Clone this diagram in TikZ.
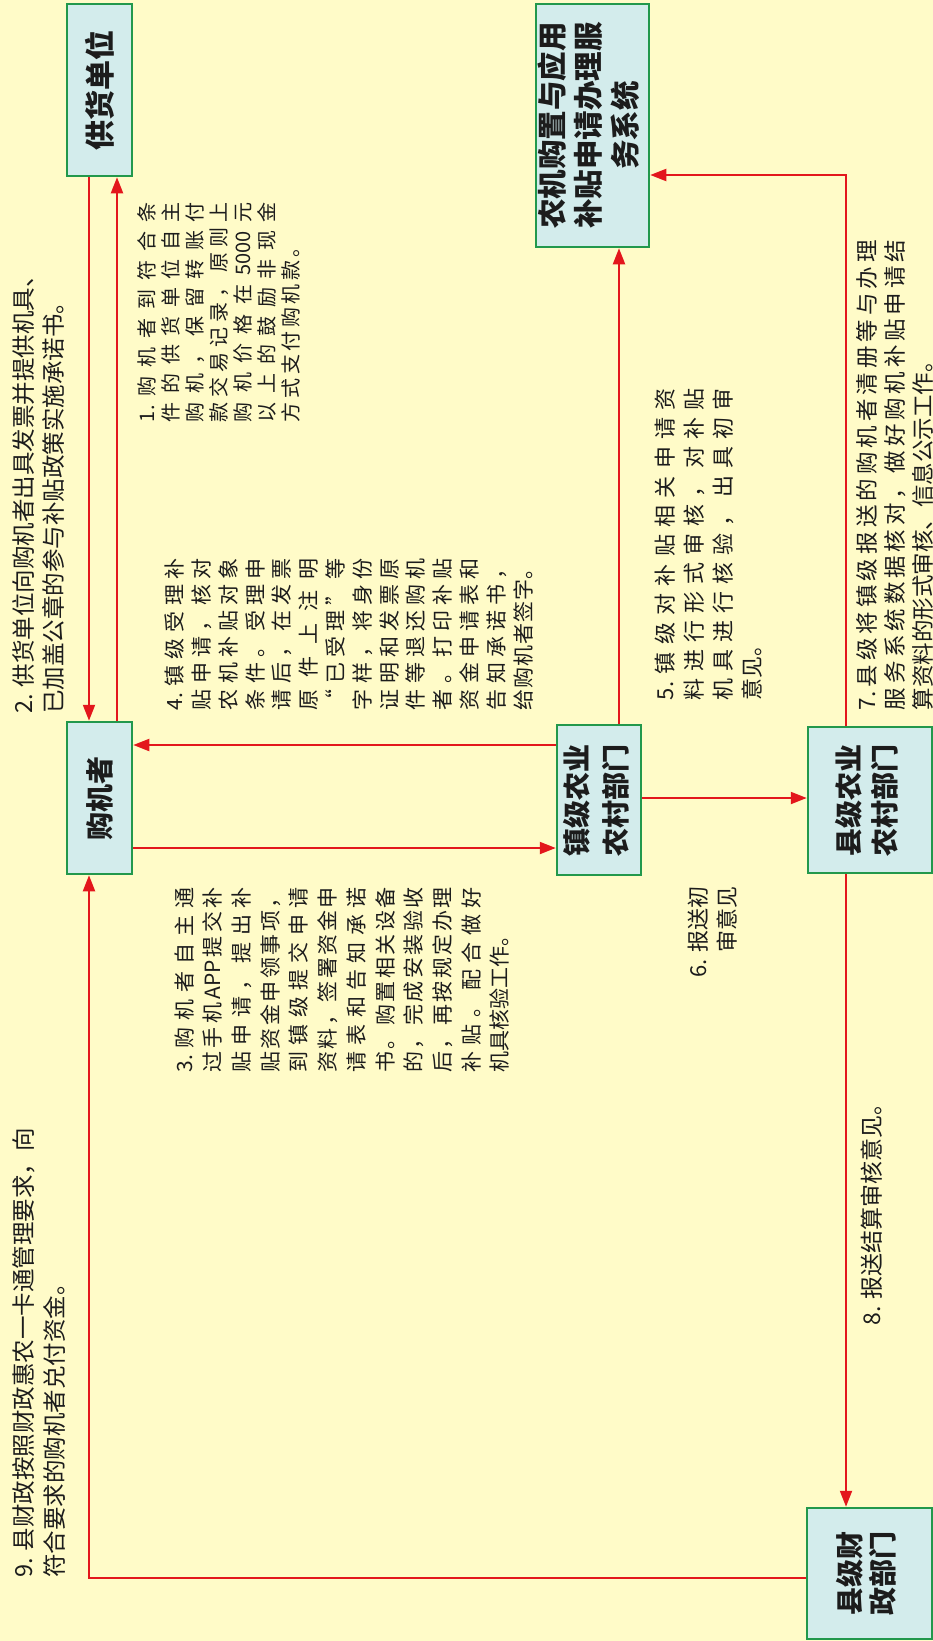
\documentclass[tikz,border=0pt]{standalone}
\usepackage{fontspec}
\setmainfont{Noto Sans CJK SC}
\usetikzlibrary{arrows.meta}
\definecolor{bg}{HTML}{FFFBC8}
\definecolor{boxfill}{HTML}{D3ECEC}
\definecolor{boxline}{HTML}{22984C}
\definecolor{arrred}{HTML}{E3161C}
\definecolor{txt}{HTML}{1C1C1C}
\def\spreadend{\spreadendX}
\newcommand\spread[2]{\leavevmode\hbox to #1{\spreadi#2\spreadend}}
\def\spreadi#1{#1\spreadj}
\def\spreadj#1{\ifx\spreadend#1\else\hfil#1\expandafter\spreadj\fi}
\tikzset{
  box/.style={draw=boxline, line width=2.5pt, fill=boxfill, inner sep=0pt, text=txt, font=\bfseries},
  lab/.style={rotate=90, inner sep=0pt, text=txt, align=left},
  arr/.style={draw=arrred, line width=2pt, -{Triangle[length=16pt,width=12pt]}},
}
\begin{document}
\begin{tikzpicture}[x=1pt,y=1pt]
\fill[bg] (0,0) rectangle (933,-1641);
\useasboundingbox (0,0) rectangle (933,-1641);

% boxes
\node[box, minimum width=65pt, minimum height=172pt] (gh) at (99.5,-90)
  {\rotatebox{90}{\fontsize{30}{36}\selectfont 供货单位}};
\node[box, minimum width=113pt, minimum height=243pt] (nj) at (592.5,-125.5)
  {\rotatebox{90}{\fontsize{29.5}{35.5}\selectfont\begin{tabular}{@{}c@{}}农机购置与应用\\补贴申请办理服\\务系统\end{tabular}}};
\node[box, minimum width=65pt, minimum height=152pt] (gj) at (99.5,-798)
  {\rotatebox{90}{\fontsize{28}{34}\selectfont 购机者}};
\node[box, minimum width=84pt, minimum height=150pt] (zj) at (599,-800)
  {\rotatebox{90}{\fontsize{28}{39}\selectfont\begin{tabular}{@{}c@{}}镇级农业\\农村部门\end{tabular}}};
\node[box, minimum width=124pt, minimum height=146pt] (xj) at (870,-800)
  {\rotatebox{90}{\fontsize{28}{36}\selectfont\begin{tabular}{@{}c@{}}县级农业\\农村部门\end{tabular}}};
\node[box, minimum width=125pt, minimum height=131pt] (cz) at (869.5,-1573.5)
  {\rotatebox{90}{\fontsize{28}{31}\selectfont\begin{tabular}{@{}c@{}}县级财\\政部门\end{tabular}}};

% helper coordinates
\coordinate (c89) at (89,0);
\coordinate (c117) at (117,0);
\coordinate (c619) at (619,0);
\coordinate (c846) at (846,0);
\coordinate (r745) at (0,-745);
\coordinate (r848) at (0,-848);
\coordinate (r798) at (0,-798);
\coordinate (r175) at (0,-175);
\coordinate (r1578) at (0,-1578);

% connectors
\draw[arr] (gh.south -| c89) -- (gj.north -| c89);
\draw[arr] (gj.north -| c117) -- (gh.south -| c117);
\draw[arr] (zj.west |- r745) -- (gj.east |- r745);
\draw[arr] (gj.east |- r848) -- (zj.west |- r848);
\draw[arr] (zj.east |- r798) -- (xj.west |- r798);
\draw[arr] (zj.north -| c619) -- (nj.south -| c619);
\draw[arr] (xj.north -| c846) |- (nj.east |- r175);
\draw[arr] (xj.south -| c846) -- (cz.north -| c846);
\draw[arr] (cz.west |- r1578) -| (gj.south -| c89);

% labels
\node[lab, font=\fontsize{20}{24}\selectfont] (t1) at (219,-312) {%
\spread{220pt}{{1.}购机者到符合条}\\
\spread{220pt}{件的供货单位自主}\\
\spread{220pt}{购机，保留转账付}\\
\spread{220pt}{款交易记录，原则上}\\
\spread{220pt}{购机价格在{5000}元}\\
\spread{220pt}{以上的鼓励非现金}\\
\spread{185pt}{方式支付购机款。}};

\node[lab, anchor=north west, font=\fontsize{23.5}{30}\selectfont] (t2) at (12,-714)
  {2. 供货单位向购机者出具发票并提供机具、\\已加盖公章的参与补贴政策实施承诺书。};

\node[lab, font=\fontsize{21}{28.7}\selectfont] (t3) at (342,-980) {%
\spread{185pt}{{3.}购机者自主通}\\
\spread{185pt}{过手机{APP}提交补}\\
\spread{185pt}{贴申请，提出补}\\
\spread{185pt}{贴资金申领事项，}\\
\spread{185pt}{到镇级提交申请}\\
\spread{185pt}{资料，签署资金申}\\
\spread{185pt}{请表和告知承诺}\\
\spread{185pt}{书。购置相关设备}\\
\spread{185pt}{的，完成安装验收}\\
\spread{185pt}{后，再按规定办理}\\
\spread{185pt}{补贴。配合做好}\\
机具核验工作。};

\node[lab, font=\fontsize{21}{26.8}\selectfont] (t4) at (349,-634) {%
\spread{152pt}{{4.}镇级受理补}\\
\spread{152pt}{贴申请，核对}\\
\spread{152pt}{农机补贴对象}\\
\spread{152pt}{条件。受理申}\\
\spread{152pt}{请后，在发票}\\
\spread{152pt}{原件上注明}\\
\spread{152pt}{“已受理”等}\\
\spread{152pt}{字样，将身份}\\
\spread{152pt}{证明和发票原}\\
\spread{152pt}{件等退还购机}\\
\spread{152pt}{者。打印补贴}\\
\spread{152pt}{资金申请表和}\\
\spread{152pt}{告知承诺书，}\\
\spread{152pt}{给购机者签字。}};

\node[lab, font=\fontsize{22}{29}\selectfont] (t5) at (708.5,-544) {%
\spread{312pt}{{5.}镇级对补贴相关申请资}\\
\spread{312pt}{料进行形式审核，对补贴}\\
\spread{312pt}{机具进行核验，出具初审}\\
意见。};

\node[lab, align=right, font=\fontsize{22}{29}\selectfont] (t6) at (712.5,-932)
  {6. 报送初\\审意见};

\node[lab, font=\fontsize{22.5}{28}\selectfont] (t7) at (895,-475) {%
\spread{470pt}{{7.}县级将镇级报送的购机者清册等与办理}\\
\spread{470pt}{服务系统数据核对，做好购机补贴申请结}\\
算资料的形式审核、信息公示工作。};

\node[lab, font=\fontsize{23}{28}\selectfont] (t8) at (872,-1208.5)
  {8. 报送结算审核意见。};

\node[lab, anchor=north west, font=\fontsize{23.5}{31}\selectfont] (t9) at (12,-1578)
  {9. 县财政按照财政惠农一卡通管理要求，向\\符合要求的购机者兑付资金。};
\end{tikzpicture}
\end{document}
